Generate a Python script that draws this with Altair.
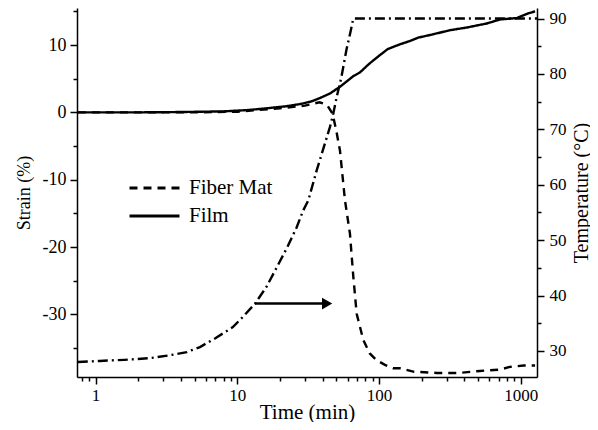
import altair as alt
import pandas as pd

# ---------------- data ----------------
film_t = [0.75, 1, 2, 4, 8, 12, 16, 22, 28, 33, 38, 45, 53, 60, 66, 73, 85, 100,
          115, 140, 165, 189, 241, 316, 415, 575, 713, 935, 1125, 1260]
film_s = [0.0, 0.0, 0.0, 0.05, 0.15, 0.35, 0.6, 0.9, 1.25, 1.6, 2.1, 2.8, 3.8, 4.7,
          5.4, 5.9, 7.2, 8.4, 9.4, 10.1, 10.6, 11.1, 11.6, 12.2, 12.6, 13.2, 13.8,
          14.0, 14.7, 15.0]

fiber_t = [0.75, 2, 5, 10, 20, 30, 38, 43, 47, 50, 53, 57.5, 62.3, 65.8, 69.5, 77.4,
           86, 96, 110, 126, 140, 174, 255, 363, 515, 713, 835, 1045, 1260]
fiber_s = [0.0, 0.0, 0.0, 0.1, 0.6, 1.0, 1.5, 1.1, -0.2, -2.8, -5.7, -13.1, -18.0,
           -24.4, -29.9, -33.8, -35.8, -36.8, -37.5, -38.0, -38.0, -38.5, -38.7,
           -38.7, -38.4, -38.2, -37.8, -37.6, -37.6]

temp_t = [0.75, 1.07, 1.6, 2.4, 3.3, 4.4, 5.45, 7.0, 9.3, 11.0, 13.3, 16.0, 18.9,
          22.5, 26.2, 29.2, 31.7, 36.3, 41.0, 45.0, 47.5, 50.2, 54.2, 59.0, 62.5,
          65.8, 100, 300, 1000, 1300]
temp_c = [28.0, 28.2, 28.4, 28.7, 29.2, 29.8, 30.7, 32.3, 34.3, 36.2, 38.5, 41.5,
          45.0, 48.7, 52.3, 55.4, 57.2, 62.6, 67.0, 70.4, 72.8, 75.8, 79.4, 84.5,
          87.3, 90.0, 90.0, 90.0, 90.0, 90.0]

arrow_t = [13.3, 41.0]
arrow_s = -28.4
arrowhead_t = 43.0

series_names = ["Fiber Mat", "Film"]

x_domain = [0.74, 1300]
strain_domain = [-39.3, 15.5]
temp_domain = [25.3, 91.9]

x_tick_values = [0.8, 0.9] + [float(v) for v in range(1, 10)] + \
    [float(v) for v in range(10, 100, 10)] + [float(v) for v in range(100, 1000, 100)] + [1000.0]
strain_tick_values = list(range(-35, 16, 5))
temp_tick_values = list(range(30, 91, 5))

# ---------------- frames ----------------
strain_df = pd.DataFrame({
    "t": fiber_t + film_t,
    "s": fiber_s + film_s,
    "series": [series_names[0]] * len(fiber_t) + [series_names[1]] * len(film_t),
})
temp_df = pd.DataFrame({"t": temp_t, "T": temp_c})
arrow_df = pd.DataFrame({"t": [arrow_t[0]], "t2": [arrow_t[1]], "s": [arrow_s]})
head_df = pd.DataFrame({"t": [arrowhead_t], "s": [arrow_s]})

FONT = "'Liberation Serif', 'DejaVu Serif', serif"

major_x = "datum.value==1||datum.value==10||datum.value==100||datum.value==1000"
x_axis = alt.Axis(
    values=x_tick_values,
    labelExpr="(" + major_x + ") ? ''+datum.value : ''",
    tickSize={"condition": {"test": major_x, "value": 7}, "value": 4},
    title="Time (min)", titleFontSize=21, titleBaseline="alphabetic", titleY=41,
    grid=False, labelPadding=3,
)
x_enc = alt.X("t:Q", scale=alt.Scale(type="log", domain=x_domain, nice=False), axis=x_axis)

y_axis = alt.Axis(
    values=strain_tick_values, orient="left",
    labelExpr="datum.value % 10 == 0 ? ''+datum.value : ''",
    tickSize={"condition": {"test": "datum.value % 10 == 0", "value": 7}, "value": 4},
    title="Strain (%)", titleFontSize=18, titleAngle=270, titleBaseline="middle", titleX=-53,
    grid=False, labelPadding=4, labelFontSize=18,
)
y_enc = alt.Y("s:Q", scale=alt.Scale(domain=strain_domain, nice=False, zero=False), axis=y_axis)

t_axis = alt.Axis(
    values=temp_tick_values, orient="right",
    labelExpr="datum.value % 10 == 0 ? ''+datum.value : ''",
    tickSize={"condition": {"test": "datum.value % 10 == 0", "value": 7}, "value": 4},
    title="Temperature (°C)", titleFontSize=20, titleAngle=270, titleBaseline="middle", titleX=44,
    grid=False, labelPadding=5,
)
t_enc = alt.Y("T:Q", scale=alt.Scale(domain=temp_domain, nice=False, zero=False), axis=t_axis)

strain_lines = alt.Chart(strain_df).mark_line(color="black", strokeWidth=2.4, clip=True).encode(
    x=x_enc, y=y_enc,
    strokeDash=alt.StrokeDash(
        "series:N",
        scale=alt.Scale(domain=series_names, range=[[8, 6], [1, 0]]),
        legend=alt.Legend(
            title=None, orient="none", legendX=51, legendY=170,
            symbolType="stroke", symbolSize=2500, symbolStrokeWidth=3,
            symbolStrokeColor="black", labelFont=FONT, labelFontSize=21,
            labelColor="black", labelOffset=8, clipHeight=20, rowPadding=7,
        ),
    ),
    order="t:Q",
)

arrow_line = alt.Chart(arrow_df).mark_rule(color="black", strokeWidth=2.5).encode(
    x=x_enc, x2="t2:Q", y=y_enc,
)
arrow_head = alt.Chart(head_df).mark_point(
    shape="triangle-right", filled=True, color="black", size=140, opacity=1
).encode(x=x_enc, y=y_enc)

left = alt.layer(strain_lines, arrow_line, arrow_head)

temp_line = alt.Chart(temp_df).mark_line(
    color="black", strokeWidth=2.4, strokeDash=[10, 4, 2, 4], clip=True
).encode(x=x_enc, y=t_enc, order="t:Q")

chart = alt.layer(left, temp_line).resolve_scale(y="independent").properties(
    width=460, height=369,
    padding={"left": 69, "top": 0, "right": 53, "bottom": 45},
    autosize=alt.AutoSizeParams(type="none"),
).configure_view(strokeWidth=0).configure_axis(
    labelFont=FONT, labelFontSize=17, labelColor="black",
    titleFont=FONT, titleFontWeight="normal", titleColor="black",
    domainColor="black", domainWidth=1.5, tickColor="black", tickWidth=1.5,
    labelFlush=False, labelOverlap=False,
)

chart.save("out.html", embed_options={"renderer": "svg", "actions": False})
